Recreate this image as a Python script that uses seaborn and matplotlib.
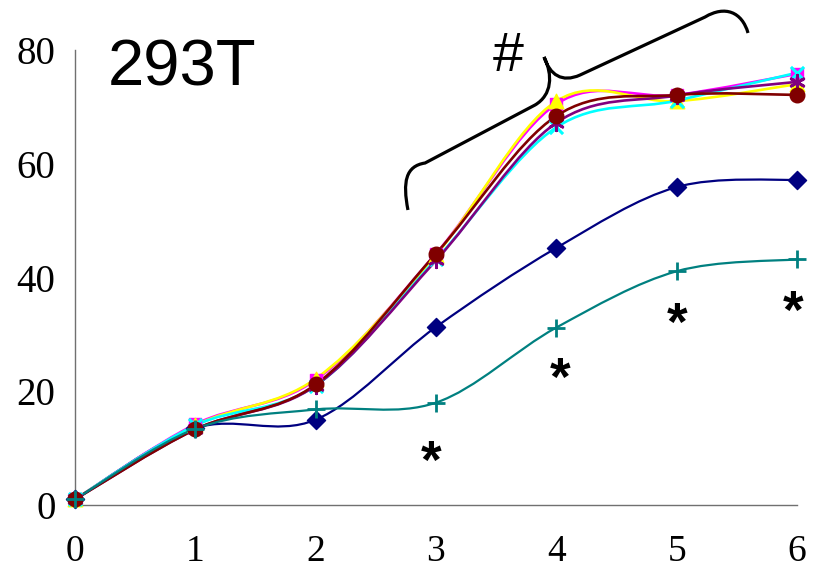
import numpy as np
import matplotlib
matplotlib.use("Agg")
import matplotlib.pyplot as plt
import seaborn as sns
from matplotlib.path import Path
from matplotlib.patches import PathPatch

# Days after transfection
days = [0, 1, 2, 3, 4, 5, 6]

# Percentage values per group
navy_vals = [1.0, 13.5, 15.0, 31.3, 45.2, 55.9, 57.2]
magenta_vals = [1.0, 14.2, 22.0, 44.2, 70.5, 72.1, 75.8]
yellow_vals = [1.0, 14.0, 22.2, 44.0, 71.0, 71.0, 74.0]
cyan_vals = [1.0, 14.0, 21.0, 43.2, 66.4, 71.1, 76.0]
purple_vals = [1.0, 13.3, 21.0, 43.0, 67.2, 72.0, 74.4]
maroon_vals = [1.0, 13.3, 21.2, 44.2, 68.4, 72.1, 72.1]
teal_vals = [1.0, 13.4, 16.8, 18.0, 31.2, 41.1, 43.2]

y_ticks = [0, 20, 40, 60, 80]
panel_title = "293T"

# Significance marks: (day, baseline value)
star_x = [2.96, 4.03, 5.0, 5.97]
star_y = [4.8, 19.4, 29.0, 31.1]

# Brace over the upper group of curves (data coordinates)
brace_x = [2.767, 2.722, 2.747, 2.909, 3.823, 3.964, 3.972, 3.898,
           3.947, 4.047, 4.197, 5.236, 5.402, 5.543, 5.593]
brace_y = [51.87, 56.8, 59.6, 60.13, 70.33, 72.1, 75.6, 78.77,
           75.6, 74.2, 75.6, 85.8, 87.9, 86.7, 82.99]
brace_codes = [Path.MOVETO, Path.CURVE4, Path.CURVE4, Path.CURVE4, Path.LINETO,
               Path.CURVE4, Path.CURVE4, Path.CURVE4,
               Path.CURVE4, Path.CURVE4, Path.CURVE4, Path.LINETO,
               Path.CURVE4, Path.CURVE4, Path.CURVE4]

series = [
    (navy_vals, "#000080", "D", 85, 1.0, 1.6),
    (magenta_vals, "#FF00FF", "s", 85, 1.0, 1.9),
    (yellow_vals, "#FFFF00", "^", 110, 1.0, 1.9),
    (cyan_vals, "#00FFFF", "x", 90, 2.2, 1.9),
    (purple_vals, "#800080", (6, 2, 0), 110, 2.0, 1.9),
    (maroon_vals, "#800000", "o", 110, 1.0, 1.9),
    (teal_vals, "#008080", "+", 150, 2.0, 1.6),
]


def smooth_path(xs, ys):
    """Catmull-Rom style cubic Bezier through the points."""
    pts = np.column_stack([xs, ys]).astype(float)
    n = len(pts)
    verts = [pts[0]]
    codes = [Path.MOVETO]
    for i in range(n - 1):
        p0 = pts[max(i - 1, 0)]
        p1 = pts[i]
        p2 = pts[i + 1]
        p3 = pts[min(i + 2, n - 1)]
        c1 = p1 + (p2 - p0) / 6.0
        c2 = p2 - (p3 - p1) / 6.0
        verts += [c1, c2, p2]
        codes += [Path.CURVE4] * 3
    return Path(verts, codes)


sns.set_theme(style="white")
plt.rcParams["font.family"] = ["Liberation Serif", "DejaVu Serif"]

fig = plt.figure(figsize=(8.17, 5.74), dpi=100)
ax = fig.add_axes([75 / 817, 69 / 574, 722 / 817, 455 / 574])
ax.set_facecolor("white")

for k, (vals, color, marker, size, mew, lw) in enumerate(series):
    ax.add_patch(PathPatch(smooth_path(days, vals), facecolor="none",
                           edgecolor=color, lw=lw, zorder=2 + k * 0.01,
                           clip_on=False))
for k, (vals, color, marker, size, mew, lw) in enumerate(series):
    filled = marker in ("D", "s", "^", "o")
    sns.scatterplot(x=days, y=vals, ax=ax, marker=marker, s=size,
                    color=color, edgecolor=color if filled else None,
                    linewidth=mew, zorder=3 + k * 0.01, clip_on=False,
                    legend=False)

ax.set_xlim(0, 6)
ax.set_ylim(0, 80)
ax.set_xticks(days)
ax.set_yticks(y_ticks)
ax.set_xlabel("")
ax.set_ylabel("")

for side in ("top", "right"):
    ax.spines[side].set_visible(False)
for side in ("left", "bottom"):
    ax.spines[side].set_color("#707070")
    ax.spines[side].set_linewidth(1.0)

ax.tick_params(axis="both", direction="in", length=9, width=1,
               color="#505050", labelsize=28, labelcolor="black")
ax.tick_params(axis="x", pad=21, labelsize=27)
ax.tick_params(axis="y", pad=14)

# Brace and marks
ax.add_patch(PathPatch(Path(np.column_stack([brace_x, brace_y]), brace_codes),
                       facecolor="none", edgecolor="black", lw=2.3,
                       clip_on=False, zorder=5))
ax.text(3.598, 76.3, "#", fontsize=40, family="Liberation Sans",
        ha="center", va="baseline", color="black", clip_on=False)
for sx, sy in zip(star_x, star_y):
    ax.text(sx, sy, "*", fontsize=38, family="Liberation Sans",
            fontweight="bold", ha="center", va="baseline", color="black")

fig.text(108 / 817, 1 - 85 / 574, panel_title, fontsize=47,
         family="Liberation Sans", ha="left", va="baseline", color="black")

fig.savefig("out.png", dpi=100, facecolor="white")
